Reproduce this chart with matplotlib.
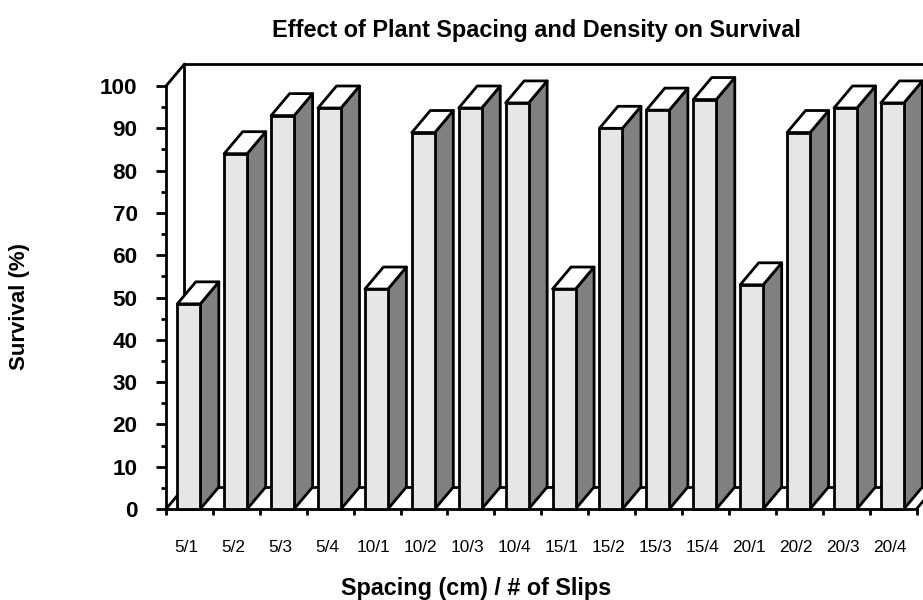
from matplotlib import pyplot as plt
from matplotlib.patches import Polygon

plt.rcParams['font.family'] = ['Liberation Sans', 'DejaVu Sans']

categories = ['5/1', '5/2', '5/3', '5/4', '10/1', '10/2', '10/3', '10/4',
              '15/1', '15/2', '15/3', '15/4', '20/1', '20/2', '20/3', '20/4']
survival = [48.5, 84, 93, 94.8, 52, 89, 94.8, 96, 52, 90, 94.3, 96.8, 53, 89, 94.8, 96]
y_ticks = list(range(0, 101, 10))
y_minor = list(range(5, 100, 10))

W, H = 923, 600
fig = plt.figure(figsize=(W / 100, H / 100), dpi=100)
# pixel box of the front plane of the chart
left, right, top, bottom = 166, 916.5, 86, 509
ax = fig.add_axes([left / W, 1 - bottom / H, (right - left) / W, (bottom - top) / H])
ax.set_xlim(0, 16)
ax.set_ylim(0, 100)
ax.patch.set_visible(False)
for side in ['top', 'right']:
    ax.spines[side].set_visible(False)
for side in ['left', 'bottom']:
    ax.spines[side].set_linewidth(2)
    ax.spines[side].set_zorder(1)

# 3d depth in data units
dx = 18.5 / 46.9
dy = 22 / 4.23
lw = 2


def poly(pts, color, z=2):
    ax.add_patch(Polygon(pts, closed=True, facecolor=color, edgecolor='black',
                         linewidth=lw, clip_on=False, zorder=z, joinstyle='round'))


def line(xs, ys, z=1):
    ax.plot(xs, ys, color='black', linewidth=lw, clip_on=False, zorder=z)


# back wall and floor
line([0, dx, dx], [100, 100 + dy, dy])
line([dx, 16 + dx], [100 + dy, 100 + dy])
line([dx, 16 + dx], [dy, dy])
for i in [0, 16]:
    line([i, i + dx], [0, dy])

# bars, left to right
bar_w = 23 / 46.9
for i, val in enumerate(survival):
    x0 = i + 11.3 / 46.9
    x1 = x0 + bar_w
    poly([(x1, 0), (x1 + dx, dy), (x1 + dx, val + dy), (x1, val)], '#808080')
    poly([(x0, val), (x1, val), (x1 + dx, val + dy), (x0 + dx, val + dy)], 'white')
    poly([(x0, 0), (x1, 0), (x1, val), (x0, val)], '#e6e6e6')

ax.set_yticks(y_ticks)
ax.set_yticks(y_minor, minor=True)
ax.tick_params(axis='y', which='major', length=7.5, width=2, pad=13, labelsize=16.2)
ax.tick_params(axis='y', which='minor', length=3.5, width=2)
for lab in ax.get_yticklabels():
    lab.set_fontweight('bold')

ax.set_xticks(range(0, 17))
ax.set_xticklabels([])
ax.tick_params(axis='x', which='major', length=4, width=2)
ax.set_xticks([i + 0.43 for i in range(16)], minor=True)
ax.set_xticklabels(categories, minor=True, fontsize=12.4)
ax.tick_params(axis='x', which='minor', length=0, pad=22)

fig.text(536 / W, 1 - 30.5 / H, 'Effect of Plant Spacing and Density on Survival',
         ha='center', va='center', fontsize=16.9, fontweight='bold')
fig.text(476 / W, 1 - 589 / H, 'Spacing (cm) / # of Slips',
         ha='center', va='center', fontsize=16.8, fontweight='bold')
fig.text(20 / W, 1 - 307 / H, 'Survival (%)', rotation=90,
         ha='center', va='center', fontsize=16, fontweight='bold')

plt.savefig('out.png', dpi=100)
